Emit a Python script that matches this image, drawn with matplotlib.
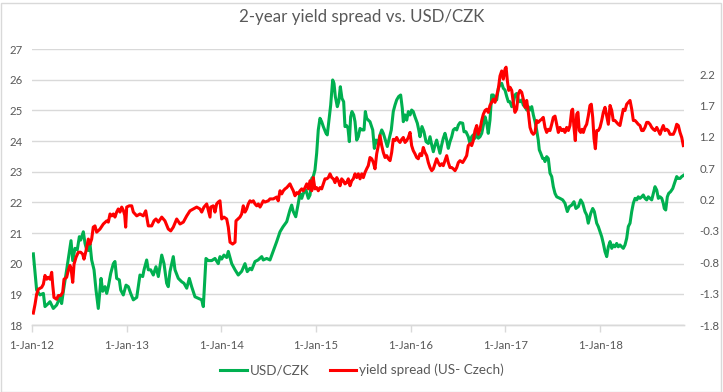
import matplotlib
matplotlib.use("Agg")
import matplotlib.pyplot as plt
from matplotlib.patches import Rectangle

plt.rcParams['font.family'] = ['Lato', 'DejaVu Sans']

title = "2-year yield spread vs. USD/CZK"
xtick_years = [2012, 2013, 2014, 2015, 2016, 2017, 2018]
xtick_labels = ['1-Jan-12', '1-Jan-13', '1-Jan-14', '1-Jan-15', '1-Jan-16', '1-Jan-17', '1-Jan-18']
left_ticks = [18, 19, 20, 21, 22, 23, 24, 25, 26, 27]
right_ticks = [-1.8, -1.3, -0.8, -0.3, 0.2, 0.7, 1.2, 1.7, 2.2]
usd_label = "USD/CZK"
spread_label = "yield spread (US- Czech)"

# USD/CZK (decimal year, level)
usd_t = [2012.014, 2012.049, 2012.084, 2012.12, 2012.137, 2012.172, 2012.19, 2012.225, 2012.26, 2012.296,
         2012.313, 2012.331, 2012.366, 2012.412, 2012.43, 2012.454, 2012.478, 2012.5, 2012.514, 2012.542,
         2012.56, 2012.578, 2012.595, 2012.612, 2012.63, 2012.655, 2012.676, 2012.7, 2012.729, 2012.747,
         2012.771, 2012.789, 2012.806, 2012.831, 2012.859, 2012.876, 2012.894, 2012.922, 2012.937, 2012.964,
         2012.993, 2013.017, 2013.042, 2013.07, 2013.106, 2013.14, 2013.169, 2013.183, 2013.211, 2013.228,
         2013.253, 2013.281, 2013.309, 2013.334, 2013.37, 2013.394, 2013.422, 2013.439, 2013.457, 2013.492,
         2013.51, 2013.545, 2013.581, 2013.605, 2013.634, 2013.661, 2013.686, 2013.721, 2013.756, 2013.792,
         2013.809, 2013.837, 2013.862, 2013.898, 2013.932, 2013.967, 2013.985, 2014.003, 2014.027, 2014.056,
         2014.073, 2014.109, 2014.144, 2014.178, 2014.214, 2014.249, 2014.273, 2014.302,
         2014.32, 2014.355, 2014.387, 2014.426, 2014.442, 2014.478, 2014.513, 2014.545, 2014.584, 2014.619,
         2014.65, 2014.69, 2014.724, 2014.742, 2014.759, 2014.785, 2014.812, 2014.83, 2014.848, 2014.865,
         2014.893, 2014.918, 2014.936, 2014.954, 2014.97, 2014.988, 2015.006, 2015.023, 2015.041, 2015.059,
         2015.076, 2015.105, 2015.118, 2015.136, 2015.154, 2015.175, 2015.189, 2015.203, 2015.224, 2015.239,
         2015.256, 2015.273, 2015.291, 2015.305, 2015.323, 2015.337, 2015.351, 2015.365, 2015.379, 2015.397,
         2015.411, 2015.429, 2015.446, 2015.464, 2015.485, 2015.506, 2015.52, 2015.534, 2015.551, 2015.569,
         2015.598, 2015.615, 2015.633, 2015.654, 2015.675, 2015.693, 2015.71, 2015.731, 2015.752, 2015.773,
         2015.794, 2015.815, 2015.833, 2015.851, 2015.872, 2015.893, 2015.91, 2015.921, 2015.939, 2015.957,
         2015.974, 2015.992, 2016.009, 2016.026, 2016.044, 2016.069, 2016.084, 2016.097, 2016.118, 2016.139,
         2016.161, 2016.185, 2016.203, 2016.221, 2016.238, 2016.256, 2016.273, 2016.29, 2016.308, 2016.326,
         2016.343, 2016.361, 2016.379, 2016.396, 2016.414, 2016.432, 2016.449, 2016.467, 2016.485, 2016.502,
         2016.52, 2016.548, 2016.562, 2016.583, 2016.607, 2016.625, 2016.643, 2016.66, 2016.678, 2016.696,
         2016.713, 2016.731, 2016.749, 2016.766, 2016.784, 2016.802, 2016.818, 2016.836, 2016.854, 2016.871,
         2016.889, 2016.907, 2016.924, 2016.942, 2016.96, 2016.977, 2016.995, 2017.013, 2017.03, 2017.048,
         2017.066, 2017.082, 2017.1, 2017.118, 2017.135, 2017.153, 2017.171, 2017.188, 2017.206, 2017.224,
         2017.241, 2017.259, 2017.277, 2017.294, 2017.312, 2017.329, 2017.346, 2017.357, 2017.372, 2017.393,
         2017.407, 2017.417, 2017.435, 2017.452, 2017.47, 2017.488, 2017.505, 2017.523, 2017.541, 2017.575,
         2017.604, 2017.628, 2017.653, 2017.674, 2017.699, 2017.723, 2017.744, 2017.769, 2017.794, 2017.815,
         2017.839, 2017.857, 2017.874, 2017.9, 2017.921, 2017.938, 2017.963, 2017.98, 2017.998, 2018.016,
         2018.033, 2018.051, 2018.069, 2018.086, 2018.104, 2018.122, 2018.138, 2018.156, 2018.174, 2018.191,
         2018.209, 2018.227, 2018.244, 2018.262, 2018.28, 2018.297, 2018.315, 2018.333, 2018.35, 2018.368,
         2018.386, 2018.402, 2018.42, 2018.438, 2018.455, 2018.473, 2018.491, 2018.508, 2018.526, 2018.544,
         2018.561, 2018.579, 2018.597, 2018.614, 2018.632, 2018.65, 2018.666, 2018.677, 2018.692, 2018.709,
         2018.723, 2018.744, 2018.766, 2018.79, 2018.808, 2018.825, 2018.843, 2018.861, 2018.885]
usd_v = [20.32, 19.14, 18.98, 19.03, 18.6, 18.7, 18.76, 18.54, 18.65, 18.9,
         18.7, 19.1, 19.8, 20.75, 20.1, 20.5, 20.45, 20.88, 20.77, 21.04,
         20.66, 20.45, 20.43, 20.66, 20.12, 19.8, 19.14, 18.54, 19.52, 19.1,
         19.25, 19.03, 19.25, 19.68, 20.0, 20.07, 19.52, 19.47, 19.14, 18.98,
         19.3, 19.25, 19.03, 18.82, 18.9, 19.63, 19.58, 19.8, 20.12, 19.8,
         19.8, 19.63, 19.9, 19.58, 20.28, 20.0, 19.36, 19.25, 19.74, 20.23,
         19.8, 19.52, 19.41, 19.36, 19.2, 19.52, 19.25, 18.92, 18.87, 18.82,
         18.6, 20.17, 20.1, 20.1, 20.17, 20.0, 20.23, 20.15, 20.28, 20.2,
         20.4, 20.0, 19.8, 19.63, 19.75, 20.0, 19.74, 19.85,
         19.8, 20.07, 20.12, 20.23, 20.12, 20.17, 20.12, 20.39, 20.72, 21.04,
         21.2, 21.37, 21.75, 21.91, 21.7, 21.53, 21.97, 22.29, 22.13, 22.29,
         22.4, 22.13, 22.24, 22.78, 22.84, 23.05, 23.6, 24.36, 24.74, 24.63,
         24.47, 24.25, 24.2, 24.68, 25.17, 25.99, 25.88, 25.45, 25.12, 25.28,
         25.77, 25.39, 25.28, 24.47, 24.5, 24.41, 23.98, 24.79, 24.96, 24.85,
         24.63, 24.03, 24.14, 24.41, 24.36, 24.36, 24.96, 24.74, 24.68, 24.63,
         24.36, 23.76, 24.03, 23.92, 24.2, 24.36, 24.25, 24.03, 23.82, 24.09,
         24.36, 24.96, 25.17, 25.34, 25.45, 25.5, 25.07, 24.63, 24.85, 24.68,
         24.96, 24.85, 25.01, 24.96, 24.79, 24.58, 24.36, 24.14, 24.47, 24.3,
         23.98, 23.92, 24.14, 23.87, 23.65, 23.87, 24.03, 23.82, 23.6, 23.87,
         24.09, 24.25, 24.03, 23.76, 23.98, 24.14, 24.36, 24.41, 24.36, 24.52,
         24.6, 24.58, 24.3, 24.3, 24.14, 23.92, 24.14, 24.2, 24.09, 24.36,
         24.09, 24.14, 24.25, 24.52, 24.79, 24.58, 24.25, 24.68, 25.5, 25.5,
         25.39, 25.34, 25.72, 25.83, 25.88, 25.72, 25.66, 25.45, 25.28, 25.28,
         25.12, 25.23, 25.5, 25.55, 25.34, 25.28, 25.34, 25.17, 25.12, 25.01,
         25.12, 25.01, 25.12, 24.85, 24.63, 24.36, 24.03, 23.71, 23.6, 23.43,
         23.43, 23.33, 23.49, 23.43, 22.95, 22.84, 22.51, 22.29, 22.18, 22.13,
         22.08, 21.97, 21.7, 21.86, 21.91, 22.02, 21.8, 21.86, 22.08, 21.97,
         21.7, 21.59, 21.32, 21.64, 21.8, 21.7, 21.32, 21.21, 21.04, 20.88,
         20.66, 20.39, 20.23, 20.55, 20.72, 20.5, 20.61, 20.55, 20.66, 20.55,
         20.61, 20.55, 20.5, 20.61, 20.83, 21.21, 21.32, 21.7, 21.97, 22.13,
         22.08, 22.18, 22.13, 22.18, 22.24, 22.13, 22.08, 22.18, 22.13, 22.08,
         22.29, 22.51, 22.4, 22.13, 22.18, 22.13, 21.97, 21.8, 21.75, 22.18,
         22.29, 22.35, 22.45, 22.67, 22.84, 22.78, 22.78, 22.84, 22.89]

# Yield spread US - Czech (decimal year, percentage points)
spread_t = [2012.014, 2012.032, 2012.049, 2012.067, 2012.102, 2012.12, 2012.137, 2012.155, 2012.172, 2012.19,
            2012.208, 2012.218, 2012.232, 2012.26, 2012.278, 2012.303, 2012.324, 2012.338, 2012.366, 2012.383,
            2012.401, 2012.412, 2012.43, 2012.444, 2012.465, 2012.489, 2012.514, 2012.535, 2012.549, 2012.57,
            2012.595, 2012.612, 2012.63, 2012.647, 2012.665, 2012.683, 2012.718, 2012.753, 2012.789, 2012.806,
            2012.824, 2012.842, 2012.859, 2012.876, 2012.894, 2012.911, 2012.929, 2012.947, 2012.964, 2012.979,
            2012.989, 2013.0, 2013.027, 2013.053, 2013.07, 2013.106, 2013.14, 2013.175, 2013.201, 2013.228,
            2013.264, 2013.288, 2013.309, 2013.334, 2013.37, 2013.404, 2013.439, 2013.465, 2013.492, 2013.528,
            2013.563, 2013.598, 2013.634, 2013.668, 2013.703, 2013.739, 2013.774, 2013.792, 2013.816, 2013.845,
            2013.88, 2013.887, 2013.914, 2013.932, 2013.95, 2013.967, 2013.985, 2014.003, 2014.027, 2014.056,
            2014.073, 2014.091, 2014.119, 2014.144, 2014.154,
            2014.196, 2014.214, 2014.231, 2014.249, 2014.267, 2014.284, 2014.302, 2014.32, 2014.337, 2014.355,
            2014.373, 2014.39, 2014.408, 2014.426, 2014.442, 2014.46, 2014.478, 2014.495, 2014.513, 2014.548,
            2014.584, 2014.6, 2014.619, 2014.637, 2014.654, 2014.672, 2014.69, 2014.707, 2014.724, 2014.742,
            2014.759, 2014.777, 2014.795, 2014.812, 2014.83, 2014.848, 2014.865, 2014.883, 2014.901, 2014.918,
            2014.936, 2014.954, 2014.97, 2014.988, 2015.006, 2015.023, 2015.041, 2015.059, 2015.076, 2015.094,
            2015.112, 2015.129, 2015.147, 2015.165, 2015.182, 2015.2, 2015.218, 2015.235, 2015.253, 2015.27,
            2015.287, 2015.305, 2015.323, 2015.34, 2015.358, 2015.376, 2015.393, 2015.411, 2015.429, 2015.446,
            2015.464, 2015.482, 2015.499, 2015.516, 2015.534, 2015.551, 2015.569, 2015.587, 2015.605, 2015.622,
            2015.64, 2015.657, 2015.675, 2015.693, 2015.71, 2015.728, 2015.746, 2015.763, 2015.781, 2015.798,
            2015.815, 2015.833, 2015.851, 2015.868, 2015.886, 2015.904, 2015.921, 2015.939, 2015.957, 2015.974,
            2015.992, 2016.009, 2016.026, 2016.044, 2016.062, 2016.079, 2016.097, 2016.115, 2016.132, 2016.15,
            2016.168, 2016.185, 2016.203, 2016.221, 2016.238, 2016.256, 2016.273, 2016.29, 2016.308, 2016.326,
            2016.343, 2016.361, 2016.379, 2016.396, 2016.414, 2016.432, 2016.449, 2016.467, 2016.485, 2016.502,
            2016.52, 2016.548, 2016.572, 2016.59, 2016.607, 2016.625, 2016.643, 2016.66, 2016.678, 2016.696,
            2016.713, 2016.731, 2016.749, 2016.766, 2016.784, 2016.802, 2016.818, 2016.836, 2016.854, 2016.871,
            2016.889, 2016.907, 2016.924, 2016.942, 2016.96, 2016.977, 2016.995, 2017.006, 2017.02, 2017.034,
            2017.048, 2017.066, 2017.082, 2017.1, 2017.118, 2017.135, 2017.153, 2017.171, 2017.188, 2017.206,
            2017.224, 2017.241, 2017.259, 2017.277, 2017.294, 2017.312, 2017.329, 2017.346, 2017.364, 2017.382,
            2017.399, 2017.417, 2017.435, 2017.452, 2017.47, 2017.488, 2017.505, 2017.523, 2017.541, 2017.558,
            2017.575, 2017.593, 2017.611, 2017.628, 2017.646, 2017.664, 2017.681, 2017.699, 2017.709, 2017.723,
            2017.737, 2017.752, 2017.765, 2017.779, 2017.794, 2017.808, 2017.822, 2017.839, 2017.857, 2017.874,
            2017.892, 2017.906, 2017.921, 2017.935, 2017.949, 2017.963, 2017.98, 2017.998, 2018.016, 2018.033,
            2018.051, 2018.069, 2018.086, 2018.104, 2018.122, 2018.138, 2018.156, 2018.174, 2018.191, 2018.209,
            2018.227, 2018.244, 2018.262, 2018.28, 2018.297, 2018.315, 2018.333, 2018.35, 2018.368, 2018.386,
            2018.402, 2018.42, 2018.438, 2018.455, 2018.473, 2018.491, 2018.508, 2018.526, 2018.544, 2018.561,
            2018.579, 2018.597, 2018.614, 2018.632, 2018.65, 2018.666, 2018.684, 2018.702, 2018.719, 2018.737,
            2018.754, 2018.772, 2018.79, 2018.808, 2018.825, 2018.843, 2018.861, 2018.878]
spread_v = [-1.61, -1.47, -1.31, -1.23, -1.2, -1.15, -1.01, -1.07, -1.04, -1.07,
            -0.96, -1.15, -1.36, -1.39, -1.33, -1.33, -1.28, -1.07, -1.04, -0.93,
            -0.85, -0.9, -1.12, -0.83, -0.72, -0.64, -0.64, -0.67, -0.75, -0.62,
            -0.43, -0.51, -0.43, -0.24, -0.22, -0.32, -0.27, -0.19, -0.14, -0.16,
            -0.03, -0.06, -0.03, -0.08, 0.0, 0.05, 0.0, 0.08, 0.03, -0.05,
            -0.24, 0.08, 0.1, 0.1, 0.0, -0.06, -0.03, -0.06, 0.02, -0.22,
            -0.22, -0.14, -0.11, -0.16, -0.08, -0.14, -0.27, -0.3, -0.24, -0.11,
            -0.19, -0.16, -0.06, 0.02, 0.05, 0.08, 0.05, 0.0, 0.08, 0.13,
            -0.08, 0.08, 0.1, 0.0, 0.13, 0.16, 0.18, -0.11, -0.08, -0.11,
            -0.24, -0.48, -0.51, -0.48, -0.14,
            -0.08, -0.03, 0.1, 0.0, 0.05, 0.13, 0.18, 0.16, 0.18, 0.13,
            0.1, 0.13, 0.08, 0.13, 0.18, 0.16, 0.17, 0.18, 0.21, 0.21,
            0.24, 0.18, 0.34, 0.29, 0.34, 0.37, 0.39, 0.42, 0.45, 0.39,
            0.34, 0.26, 0.31, 0.29, 0.34, 0.37, 0.34, 0.39, 0.45, 0.37,
            0.5, 0.34, 0.55, 0.37, 0.39, 0.34, 0.39, 0.37, 0.45, 0.53,
            0.53, 0.55, 0.61, 0.55, 0.53, 0.47, 0.55, 0.5, 0.42, 0.53,
            0.5, 0.45, 0.47, 0.53, 0.42, 0.5, 0.53, 0.61, 0.55, 0.61,
            0.53, 0.61, 0.55, 0.63, 0.69, 0.74, 0.87, 0.85, 0.79, 0.69,
            0.93, 1.06, 1.22, 1.06, 0.95, 0.87, 0.9, 0.85, 0.82, 0.95,
            1.16, 1.14, 1.19, 1.14, 1.11, 1.16, 1.19, 1.11, 1.14, 1.19,
            1.27, 1.06, 0.98, 0.93, 0.87, 0.85, 0.93, 0.9, 1.03, 0.95,
            0.9, 0.79, 0.71, 0.66, 0.69, 0.77, 0.85, 0.79, 0.74, 0.77,
            0.74, 0.82, 0.9, 0.79, 0.71, 0.71, 0.69, 0.66, 0.71, 0.79,
            0.82, 0.79, 0.85, 0.9, 1.06, 1.09, 1.06, 1.14, 1.3, 1.38,
            1.24, 1.32, 1.46, 1.56, 1.62, 1.64, 1.59, 1.7, 1.75, 1.8,
            1.75, 1.86, 1.96, 2.17, 2.25, 2.12, 2.28, 2.31, 2.09, 1.94,
            1.99, 1.94, 1.75, 1.59, 1.64, 1.88, 1.94, 1.91, 1.8, 1.67,
            1.78, 1.59, 1.35, 1.27, 1.24, 1.27, 1.46, 1.43, 1.46, 1.48,
            1.51, 1.35, 1.27, 1.32, 1.3, 1.4, 1.51, 1.53, 1.4, 1.27,
            1.35, 1.3, 1.32, 1.27, 1.35, 1.3, 1.38, 1.62, 1.64, 1.35,
            1.14, 1.56, 1.59, 1.3, 1.27, 1.32, 1.27, 1.35, 1.4, 1.53,
            1.7, 1.72, 1.51, 1.17, 1.01, 1.3, 1.3, 1.35, 1.46, 1.59,
            1.67, 1.53, 1.4, 1.7, 1.62, 1.46, 1.46, 1.43, 1.4, 1.38,
            1.51, 1.64, 1.62, 1.72, 1.75, 1.78, 1.64, 1.46, 1.46, 1.43,
            1.4, 1.38, 1.3, 1.3, 1.35, 1.43, 1.43, 1.4, 1.35, 1.32,
            1.3, 1.35, 1.3, 1.24, 1.32, 1.38, 1.3, 1.32, 1.3, 1.24,
            1.24, 1.24, 1.3, 1.4, 1.38, 1.27, 1.19, 1.06]

W, H = 723, 392
fig = plt.figure(figsize=(W / 100, H / 100), dpi=100)
fig.patch.set_facecolor('white')

L, R, T, B = 32, 684, 49, 325
ax = fig.add_axes([L / W, 1 - B / H, (R - L) / W, (B - T) / H])
ax2 = ax.twinx()

grid_c = '#d9d9d9'
tick_c = '#595959'

l1, = ax.plot(usd_t, usd_v, color='#00B050', lw=2.2, solid_joinstyle='round', label=usd_label)
l2, = ax2.plot(spread_t, spread_v, color='#FF0000', lw=2.2, solid_joinstyle='round', label=spread_label)

ax.set_xlim(2012.0, 2018.885)
ax.set_ylim(18, 27)
ax2.set_ylim(-1.8, 2.6)

ax.set_yticks(left_ticks)
ax.set_yticklabels([str(v) for v in left_ticks])
ax2.set_yticks(right_ticks)
ax2.set_yticklabels([f"{v:.1f}" for v in right_ticks])
ax.set_xticks(xtick_years)
ax.set_xticklabels(xtick_labels)

ax.grid(axis='y', color=grid_c, lw=1.0)
ax.set_axisbelow(True)
for a in (ax, ax2):
    for s in ('top', 'left', 'right'):
        a.spines[s].set_visible(False)
    a.spines['bottom'].set_color(grid_c)
    a.spines['bottom'].set_linewidth(1.0)

ax.tick_params(axis='y', length=0, pad=7, labelsize=8.2, labelcolor=tick_c)
ax2.tick_params(axis='y', length=0, pad=11, labelsize=8.2, labelcolor=tick_c)
ax.tick_params(axis='x', length=5, width=1.0, color=grid_c, pad=6, labelsize=8.2, labelcolor=tick_c)

fig.text(0.5, 1 - 17 / H, title, ha='center', va='center', fontsize=12.2, color='#595959')

fig.legend(handles=[l1, l2], loc='center', bbox_to_anchor=(362 / W, 1 - 370 / H),
           ncol=2, frameon=False, fontsize=9.7, handlelength=2.0, handletextpad=0.2,
           columnspacing=1.5, labelcolor=tick_c)

fig.add_artist(Rectangle((0.5 / W, 0.5 / H), (W - 3) / W, (H - 3) / H, transform=fig.transFigure,
                         fill=False, edgecolor=grid_c, lw=1.0))

fig.savefig('out.png', dpi=100)
